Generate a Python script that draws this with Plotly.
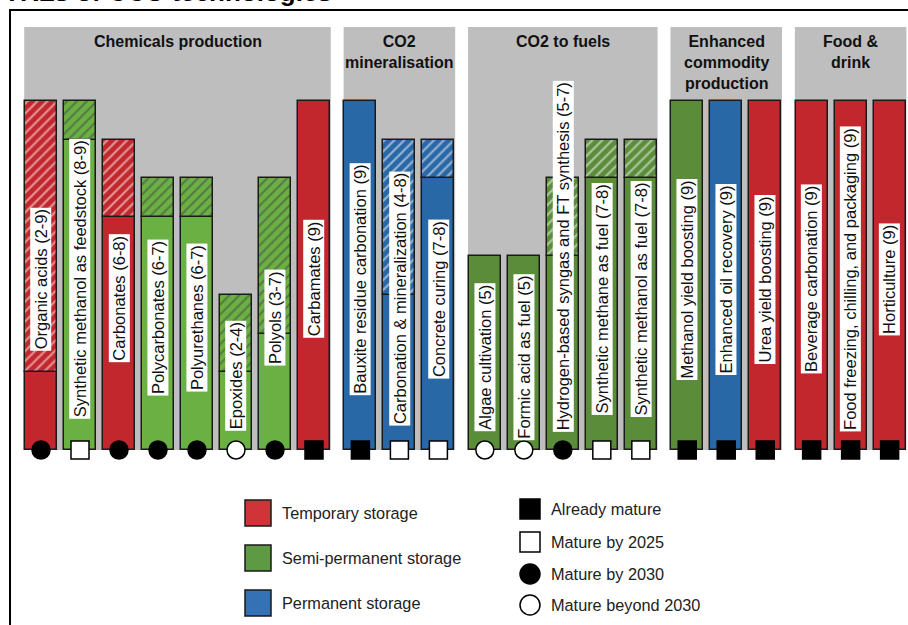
import plotly.graph_objects as go

# --- data -------------------------------------------------------------
groups = ["Chemicals production", "CO2<br>mineralisation", "CO2 to fuels",
          "Enhanced<br>commodity<br>production", "Food &<br>drink"]

techs = ["Organic acids", "Synthetic methanol as feedstock", "Carbonates",
         "Polycarbonates", "Polyurethanes", "Epoxides", "Polyols", "Carbamates",
         "Bauxite residue carbonation", "Carbonation & mineralization", "Concrete curing",
         "Algae cultivation", "Formic acid as fuel", "Hydrogen-based syngas and FT synthesis",
         "Synthetic methane as fuel", "Synthetic methanol as fuel",
         "Methanol yield boosting", "Enhanced oil recovery", "Urea yield boosting",
         "Beverage carbonation", "Food freezing, chilling, and packaging", "Horticulture"]
tech_group = [0, 0, 0, 0, 0, 0, 0, 0, 1, 1, 1, 2, 2, 2, 2, 2, 3, 3, 3, 4, 4, 4]
trl_low = [2, 8, 6, 6, 6, 2, 3, 9, 9, 4, 7, 5, 5, 5, 7, 7, 9, 9, 9, 9, 9, 9]
trl_high = [9, 9, 8, 7, 7, 4, 7, 9, 9, 8, 8, 5, 5, 7, 8, 8, 9, 9, 9, 9, 9, 9]
storage = ["temp", "semi", "temp", "semi", "semi", "semi", "semi", "temp",
           "perm", "perm", "perm",
           "semi", "semi", "semi", "semi", "semi",
           "semi", "perm", "temp",
           "temp", "temp", "temp"]
maturity = ["2030", "2025", "2030", "2030", "2030", "beyond", "2030", "now",
            "now", "2025", "2025",
            "beyond", "beyond", "2030", "2025", "2025",
            "now", "now", "now",
            "now", "now", "now"]

storage_labels = ["Temporary storage", "Semi-permanent storage", "Permanent storage"]
maturity_labels = ["Already mature", "Mature by 2025", "Mature by 2030", "Mature beyond 2030"]

# --- styling ----------------------------------------------------------
FONT = "Liberation Sans, Arial, sans-serif"
RED = "#c1272d"
GREEN_LIGHT = "#6ab043"
GREEN_DARK = "#5a8c3a"
BLUE = "#2968a6"
EDGE = "#1a1a1a"
PANEL = "#bebebe"

W, H = 908, 625


def bar_color(kind, grp):
    if kind == "temp":
        return RED
    if kind == "perm":
        return BLUE
    return GREEN_LIGHT if grp == 0 else GREEN_DARK


# marker style per maturity class: symbol, fill
mat_style = {"now": ("square", "black"), "2025": ("square", "white"),
             "2030": ("circle", "black"), "beyond": ("circle", "white")}

# x position: one slot per bar plus a small gap between groups
xpos = [i + 0.19 * g for i, g in enumerate(tech_group)]
colors = [bar_color(s, g) for s, g in zip(storage, tech_group)]
labels = [f"{t} ({lo}-{hi})" if lo != hi else f"{t} ({hi})"
          for t, lo, hi in zip(techs, trl_low, trl_high)]

fig = go.Figure()

# solid part (current TRL)
fig.add_trace(go.Bar(
    x=xpos, y=trl_low, base=0, width=0.82,
    marker=dict(color=colors, line=dict(color=EDGE, width=1.5)),
    showlegend=False, hoverinfo="skip"))

# hatched part (expected TRL range)
hx, hy, hb, hc = [], [], [], []
for x, lo, hi, c in zip(xpos, trl_low, trl_high, colors):
    if hi > lo:
        hx.append(x)
        hy.append(hi - lo)
        hb.append(lo)
        hc.append(c)
fig.add_trace(go.Bar(
    x=hx, y=hy, base=hb, width=0.82,
    marker=dict(color=hc, line=dict(color=EDGE, width=1.5),
                pattern=dict(shape="/", fgcolor=hc, bgcolor="white", size=7, solidity=0.32)),
    showlegend=False, hoverinfo="skip"))

# maturity markers on the bar bottoms
fig.add_trace(go.Scatter(
    x=xpos, y=[0] * len(xpos), mode="markers",
    marker=dict(symbol=[mat_style[m][0] for m in maturity],
                color=[mat_style[m][1] for m in maturity],
                size=18, line=dict(color="black", width=1.5)),
    showlegend=False, hoverinfo="skip", cliponaxis=False))

shapes = []
annotations = []

# grey group panels and group headers
for g, name in enumerate(groups):
    xs = [x for x, tg in zip(xpos, tech_group) if tg == g]
    shapes.append(dict(type="rect", xref="x", yref="y", layer="below",
                       x0=min(xs) - 0.43, x1=max(xs) + 0.43, y0=0, y1=10.9,
                       fillcolor=PANEL, line=dict(width=0)))
    annotations.append(dict(xref="x", yref="paper", x=(min(xs) + max(xs)) / 2,
                            y=1 - 31 / H, yanchor="top", showarrow=False,
                            text=f"<b>{name}</b>", align="center",
                            font=dict(family=FONT, size=16, color="#111")))

# vertical labels inside bars
for x, hi, lab in zip(xpos, trl_high, labels):
    too_long = len(lab) * 8 > hi * 38.8 - 10
    annotations.append(dict(
        xref="x", yref="y", x=x, y=0.45 if too_long else hi / 2 - 0.1,
        yanchor="bottom" if too_long else "middle",
        text=lab, textangle=-90, showarrow=False, bgcolor="white", borderpad=1,
        font=dict(family=FONT, size=16.5, color="#111")))


def px(v):
    return v / W


def py(v):
    return 1 - v / H


# legend: storage type
legend_colors = ["#d13438", "#5e9a44", "#3571b5"]
for k, (lab, c) in enumerate(zip(storage_labels, legend_colors)):
    yc = 513 + 45 * k
    shapes.append(dict(type="rect", xref="paper", yref="paper",
                       x0=px(245), x1=px(271), y0=py(yc + 13), y1=py(yc - 13),
                       fillcolor=c, line=dict(color=EDGE, width=1.5)))
    annotations.append(dict(xref="paper", yref="paper", x=px(280), y=py(yc),
                            xanchor="left", yanchor="middle", showarrow=False, text=lab,
                            font=dict(family=FONT, size=16.3, color="#222")))

# legend: maturity
legend_sym = [("rect", "black"), ("rect", "white"), ("circle", "black"), ("circle", "white")]
legend_y = [509, 542, 574, 605]
for lab, (kind, fill), yc in zip(maturity_labels, legend_sym, legend_y):
    shapes.append(dict(type=kind, xref="paper", yref="paper",
                       x0=px(520), x1=px(540), y0=py(yc + 10), y1=py(yc - 10),
                       fillcolor=fill, line=dict(color="black", width=1.5)))
    annotations.append(dict(xref="paper", yref="paper", x=px(549), y=py(yc),
                            xanchor="left", yanchor="middle", showarrow=False, text=lab,
                            font=dict(family=FONT, size=16.3, color="#222")))

# outer frame and the (cut off) figure title
shapes.append(dict(type="rect", xref="paper", yref="paper",
                   x0=px(10), x1=px(W + 20), y0=py(H + 20), y1=py(10),
                   line=dict(color="black", width=2)))
annotations.append(dict(xref="paper", yref="paper", x=px(334), y=py(-8),
                        xanchor="right", yanchor="middle", showarrow=False,
                        text="<b>TRLs of CCU technologies</b>",
                        font=dict(family=FONT, size=26, color="black")))

fig.update_layout(
    width=W, height=H,
    margin=dict(l=0, r=0, t=0, b=0),
    paper_bgcolor="white", plot_bgcolor="white",
    barmode="overlay", bargap=0,
    xaxis=dict(range=[-41 / 39, (W - 41) / 39], visible=False, fixedrange=True),
    yaxis=dict(range=[-175 / 38.8, 450 / 38.8], visible=False, fixedrange=True),
    shapes=shapes, annotations=annotations,
)

# drop the default page margin so the figure sits at the window origin
fig.write_html("out.html", config={"displayModeBar": False},
               post_script="document.body.style.margin='0';document.body.style.overflow='hidden';")
